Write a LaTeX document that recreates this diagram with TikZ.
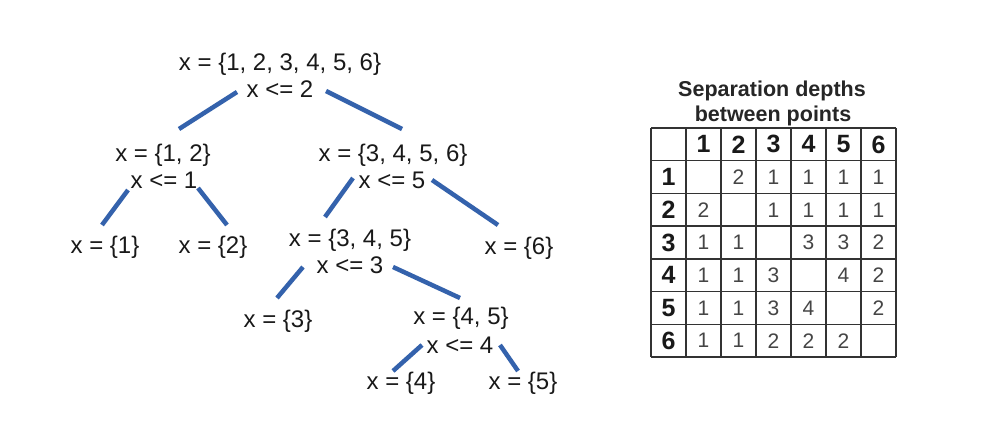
\documentclass[tikz,border=0pt]{standalone}
\usepackage{fontspec}
\setmainfont{Liberation Sans}
\usetikzlibrary{calc}
\definecolor{edgeblue}{HTML}{3462AC}
\definecolor{gridc}{HTML}{333333}
\definecolor{cellc}{HTML}{454545}
\tikzset{
  treetxt/.style={font=\fontsize{24}{28}\selectfont, inner sep=2pt, text height=20pt, text depth=2pt, text=black!90},
  edge/.style={draw=edgeblue, line width=4.5pt},
  hdr/.style={font=\fontsize{25}{28}\selectfont\bfseries, text=black!90, inner sep=0pt},
  cell/.style={font=\fontsize{21}{24}\selectfont, text=cellc, inner sep=0pt},
  ttl/.style={font=\fontsize{21.5}{25}\selectfont\bfseries, text=black!85, inner sep=0pt, align=center}
}
\begin{document}
\begin{tikzpicture}[x=1pt,y=-1pt]
\useasboundingbox[fill=white] (0,0) rectangle (996,438);
% tree
\node[treetxt] (n0) at (280,62) {x = \{1, 2, 3, 4, 5, 6\}};
\node[treetxt] (c0) at (280,89) {x <= 2};
\node[treetxt] (n1) at (163,153) {x = \{1, 2\}};
\node[treetxt] (c1) at (164,180) {x <= 1};
\node[treetxt] (n2) at (393,153) {x = \{3, 4, 5, 6\}};
\node[treetxt] (c2) at (392,180) {x <= 5};
\node[treetxt] (l1) at (105,245) {x = \{1\}};
\node[treetxt] (l2) at (213,245) {x = \{2\}};
\node[treetxt] (n3) at (350,238) {x = \{3, 4, 5\}};
\node[treetxt] (c3) at (350,265) {x <= 3};
\node[treetxt] (l6) at (519,246) {x = \{6\}};
\node[treetxt] (l3) at (278,318) {x = \{3\}};
\node[treetxt] (n4) at (461,315) {x = \{4, 5\}};
\node[treetxt] (c4) at (460,344) {x <= 4};
\node[treetxt] (l4) at (401,380) {x = \{4\}};
\node[treetxt] (l5) at (523,380) {x = \{5\}};
% edges
\draw[edge] ($(c0)+(-43,3)$) -- ($(n1)+(16,-24)$);
\draw[edge] ($(c0)+(46,2)$) -- ($(n2)+(9,-24)$);
\draw[edge] ($(c1)+(-36,10)$) -- ($(l1)+(-3,-20)$);
\draw[edge] ($(c1)+(34,8)$) -- ($(l2)+(14,-20)$);
\draw[edge] ($(c2)+(-39,-2)$) -- ($(n3)+(-25,-21)$);
\draw[edge] ($(c2)+(40,0)$) -- ($(l6)+(-21,-21)$);
\draw[edge] ($(c3)+(-47,2)$) -- ($(l3)+(-1,-20)$);
\draw[edge] ($(c3)+(43,2)$) -- ($(n4)+(-1,-17)$);
\draw[edge] ($(c4)+(-38,1)$) -- ($(l4)+(-8,-9)$);
\draw[edge] ($(c4)+(40,1)$) -- ($(l5)+(-5,-9)$);
% table title
\node[ttl] (t1) at (772,91) {Separation depths};
\node[ttl] (t2) at (773,116) {between points};
% table grid
\coordinate (tl) at (651,128);
\coordinate (br) at (896,357);
\foreach \i in {0,...,7} {
  \draw[gridc, line width=1.5pt] ($(tl)+(35*\i,0)$) -- ($(tl)+(35*\i,229)$);
  \draw[gridc, line width=1.5pt] ($(tl)+(0,229*\i/7)$) -- ($(tl)+(245,229*\i/7)$);
}
% headers
\foreach \i in {1,...,6} {
  \node[hdr] (h\i) at ($(tl)+(35*\i+17.5,16.4)$) {\i};
  \node[hdr] (r\i) at ($(tl)+(17.5,229*\i/7+16.4)$) {\i};
}
% cells
\foreach \r/\c/\v in {1/2/2,1/3/1,1/4/1,1/5/1,1/6/1,
  2/1/2,2/3/1,2/4/1,2/5/1,2/6/1,
  3/1/1,3/2/1,3/4/3,3/5/3,3/6/2,
  4/1/1,4/2/1,4/3/3,4/5/4,4/6/2,
  5/1/1,5/2/1,5/3/3,5/4/4,5/6/2,
  6/1/1,6/2/1,6/3/2,6/4/2,6/5/2} {
  \node[cell] (v\r\c) at ($(tl)+(35*\c+17.5,229*\r/7+16.4)$) {\v};
}
\end{tikzpicture}
\end{document}
